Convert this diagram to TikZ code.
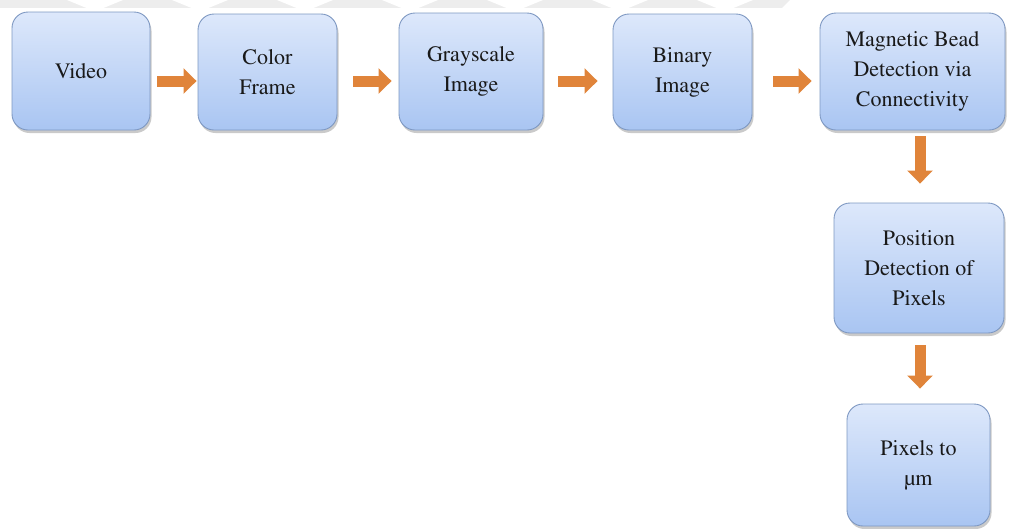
\documentclass[tikz,border=0pt]{standalone}
\usepackage[T1]{fontenc}
\usepackage{times}
\usetikzlibrary{arrows.meta,shadows,calc}
\definecolor{boxtop}{HTML}{DDE8FB}
\definecolor{boxbot}{HTML}{A9C5F2}
\definecolor{boxline}{HTML}{7E98C2}
\definecolor{arrcol}{HTML}{E0843A}
\definecolor{wm}{HTML}{EDEDED}
\tikzset{
  stage/.style={draw=boxline, line width=0.9pt, rounded corners=16pt,
    top color=boxtop, bottom color=boxbot, align=center, inner sep=0pt,
    font=\rmfamily\fontsize{22}{30}\selectfont, text=black!90,
    drop shadow={shadow xshift=1.5pt, shadow yshift=-3pt, opacity=0.35, fill=black!60}},
  flow/.style={draw=arrcol, line width=11pt, -{Triangle[length=13pt,width=25pt]}}
}
\begin{document}
\begin{tikzpicture}[x=1pt,y=-1pt]
\useasboundingbox (0,0) rectangle (1013,528);
% faint watermark band at the top
\fill[wm] (0,0) rectangle (790,8);
\foreach \c in {95,200,305,410,515,620,725}{
  \fill[white] (\c-28,0) -- (\c+28,0) -- (\c+8,8.2) -- (\c-8,8.2) -- cycle;
}
\fill[white] (790,0) -- (800,0) -- (800,8.2) -- (782,8.2) -- cycle;
% stages
\node[stage, minimum width=138pt, minimum height=118pt] (v) at (81,71) {Video};
\node[stage, minimum width=139pt, minimum height=116pt] (c) at (267.5,72) {Color\\Frame};
\node[stage, minimum width=144pt, minimum height=117pt] (g) at (471,71.5) {Grayscale\\Image};
\node[stage, minimum width=139pt, minimum height=116pt] (b) at (682.5,72) {Binary\\Image};
\node[stage, minimum width=185pt, minimum height=117pt] (m) at (912.5,71.5) {Magnetic Bead\\Detection via\\Connectivity};
\node[stage, minimum width=170pt, minimum height=130pt] (p) at (919,268) {Position\\Detection of\\Pixels};
\node[stage, minimum width=143pt, minimum height=122pt] (u) at (918.5,465) {Pixels to\\\textmu m};
% arrow axes
\coordinate (row) at (0,81);
\coordinate (col) at (920,0);
% connectors
\draw[flow, shorten <=7pt, shorten >=1pt] (v.east |- row) -- (c.west |- row);
\draw[flow, shorten <=16pt, shorten >=7pt] (c.east |- row) -- (g.west |- row);
\draw[flow, shorten <=15pt, shorten >=15pt] (g.east |- row) -- (b.west |- row);
\draw[flow, shorten <=21pt, shorten >=8pt] (b.east |- row) -- (m.west |- row);
\draw[flow, shorten <=6pt, shorten >=19pt] (m.south -| col) -- (p.north -| col);
\draw[flow, shorten <=12pt, shorten >=15pt] (p.south -| col) -- (u.north -| col);
\end{tikzpicture}
\end{document}
